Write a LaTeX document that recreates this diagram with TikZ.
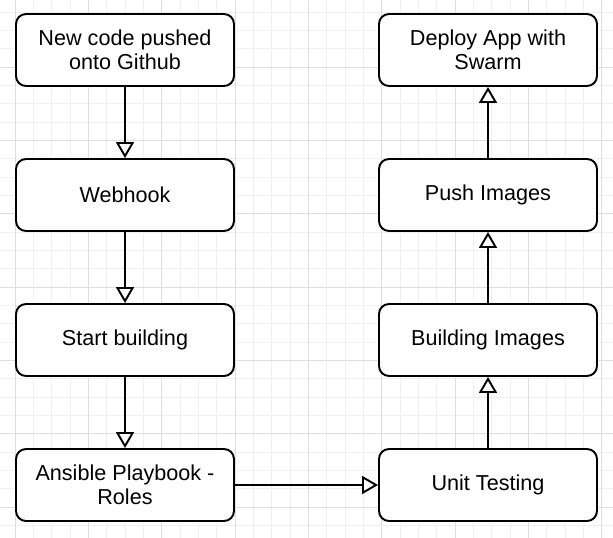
\documentclass[tikz,border=0pt]{standalone}
\usepackage{fontspec}
\setmainfont{Liberation Sans}
\usetikzlibrary{arrows.meta}

\tikzset{
  stage/.style={draw, line width=1.1pt, rounded corners=0.2cm, fill=white,
    minimum width=4.36cm, minimum height=1.44cm, align=center,
    font=\fontsize{12.3}{13.8}\selectfont},
  flow/.style={line width=1.1pt, -{Triangle[fill=white, width=0.36cm, length=0.32cm]}},
  minorgrid/.style={draw=black!6, line width=0.5pt},
  majorgrid/.style={draw=black!13, line width=0.5pt}
}

\begin{document}
\begin{tikzpicture}[x=0.02cm, y=-0.02cm]
	\useasboundingbox (0,0) rectangle (613,538);
	\fill[white] (0,0) rectangle (613,538);
	% grid background
	\foreach \i in {-1,...,33} {
		\draw[minorgrid] (15+\i*18.333,0) -- (15+\i*18.333,538);
		\draw[minorgrid] (0,-6.3+\i*18.333) -- (613,-6.3+\i*18.333);
	}
	\foreach \i in {-1,...,8} {
		\draw[majorgrid] (15+\i*73.333,0) -- (15+\i*73.333,538);
		\draw[majorgrid] (0,-6.3+\i*73.333) -- (613,-6.3+\i*73.333);
	}

	% left column
	\node (push)[stage] at (125,50) {New code pushed\\onto Github};
	\node (hook)[stage] at (125,195) {Webhook};
	\node (build)[stage] at (125,340) {Start building};
	\node (play)[stage] at (125,485) {Ansible Playbook -\\Roles};

	% right column
	\node (test)[stage] at (488,485) {Unit Testing};
	\node (images)[stage] at (488,340) {Building Images};
	\node (pushimg)[stage] at (488,195) {Push Images};
	\node (deploy)[stage] at (488,50) {Deploy App with\\Swarm};

	\draw[flow] (push) -- (hook);
	\draw[flow] (hook) -- (build);
	\draw[flow] (build) -- (play);
	\draw[flow] (play) -- (test);
	\draw[flow] (test) -- (images);
	\draw[flow] (images) -- (pushimg);
	\draw[flow] (pushimg) -- (deploy);
\end{tikzpicture}
\end{document}
